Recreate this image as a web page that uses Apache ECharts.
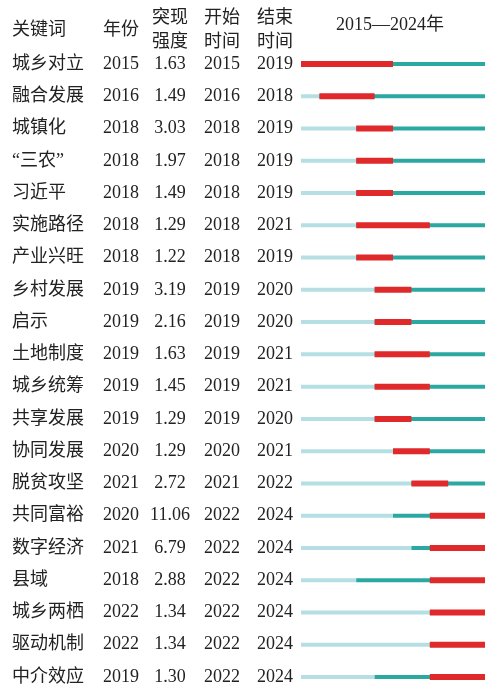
<!DOCTYPE html>
<html>
<head>
    <meta charset="utf-8">
    <title>关键词突现</title>
    <script src="https://cdn.jsdelivr.net/npm/echarts@6/dist/echarts.min.js"></script>
    <style>
        html, body { margin: 0; padding: 0; background: #fff; }
        #chart { width: 486px; height: 686px; }
    </style>
</head>
<body>
    <div id="chart"></div>
    <script type="text/javascript">
        // 数据
        const keywords = ['城乡对立', '融合发展', '城镇化', '“三农”', '习近平', '实施路径', '产业兴旺', '乡村发展', '启示', '土地制度',
            '城乡统筹', '共享发展', '协同发展', '脱贫攻坚', '共同富裕', '数字经济', '县域', '城乡两栖', '驱动机制', '中介效应'];
        const years = [2015, 2016, 2018, 2018, 2018, 2018, 2018, 2019, 2019, 2019,
            2019, 2019, 2020, 2021, 2020, 2021, 2018, 2022, 2022, 2019];
        const strengths = ['1.63', '1.49', '3.03', '1.97', '1.49', '1.29', '1.22', '3.19', '2.16', '1.63',
            '1.45', '1.29', '1.29', '2.72', '11.06', '6.79', '2.88', '1.34', '1.34', '1.30'];
        const begins = [2015, 2016, 2018, 2018, 2018, 2018, 2018, 2019, 2019, 2019,
            2019, 2019, 2020, 2021, 2022, 2022, 2022, 2022, 2022, 2022];
        const ends = [2019, 2018, 2019, 2019, 2019, 2021, 2019, 2020, 2020, 2021,
            2021, 2020, 2021, 2022, 2024, 2024, 2024, 2024, 2024, 2024];
        const firstYear = 2015;
        const lastYear = 2024;

        const font = '"Liberation Serif", "Noto Sans CJK SC", serif';
        const textColor = '#222';
        const colLight = '#b5dfe3';
        const colTeal = '#2ba8a2';
        const colRed = '#e0292b';

        // 文字列的 x 位置
        const colKeyword = 12, colYear = 121, colStrength = 170, colBegin = 222, colEnd = 275;

        const chart = echarts.init(document.getElementById('chart'));

        function txt(x, y, s, align) {
            return {
                type: 'text',
                style: {
                    x: x, y: y, text: s, fill: textColor,
                    font: '18px ' + font,
                    textAlign: align || 'center', textVerticalAlign: 'middle'
                }
            };
        }

        const option = {
            animation: false,
            grid: { left: 301, right: 1, top: 64, bottom: 9 },
            xAxis: { type: 'value', min: firstYear, max: lastYear + 1, show: false },
            yAxis: { type: 'value', min: 0, max: keywords.length - 1, inverse: true, show: false },
            graphic: [
                txt(colKeyword, 30, '关键词', 'left'),
                txt(colYear, 30, '年份'),
                txt(colStrength, 18, '突现'),
                txt(colStrength, 42, '强度'),
                txt(colBegin, 18, '开始'),
                txt(colBegin, 42, '时间'),
                txt(colEnd, 18, '结束'),
                txt(colEnd, 42, '时间'),
                txt(390, 25, firstYear + '—' + lastYear + '年')
            ],
            series: [{
                type: 'custom',
                data: keywords.map(function (k, i) { return [i]; }),
                encode: { y: 0 },
                clip: false,
                renderItem: function (params, api) {
                    const i = params.dataIndex;
                    const y = api.coord([firstYear, i])[1];
                    const x0 = api.coord([firstYear, i])[0];
                    const xYear = api.coord([years[i], i])[0];
                    const xBegin = api.coord([begins[i], i])[0];
                    const xEnd = api.coord([ends[i] + 1, i])[0];
                    const xLast = api.coord([lastYear + 1, i])[0];
                    const thin = 4, thick = 6;
                    const children = [];
                    if (xYear > x0) {
                        children.push({ type: 'rect', shape: { x: x0, y: y - thin / 2, width: xYear - x0, height: thin }, style: { fill: colLight } });
                    }
                    children.push({ type: 'rect', shape: { x: xYear, y: y - thin / 2, width: xLast - xYear, height: thin }, style: { fill: colTeal } });
                    children.push({ type: 'rect', shape: { x: xBegin, y: y - thick / 2, width: xEnd - xBegin, height: thick }, style: { fill: colRed } });
                    children.push(txt(colKeyword, y, keywords[i], 'left'));
                    children.push(txt(colYear, y, String(years[i])));
                    children.push(txt(colStrength, y, strengths[i]));
                    children.push(txt(colBegin, y, String(begins[i])));
                    children.push(txt(colEnd, y, String(ends[i])));
                    return { type: 'group', children: children };
                }
            }]
        };
        chart.setOption(option);
    </script>
</body>
</html>
